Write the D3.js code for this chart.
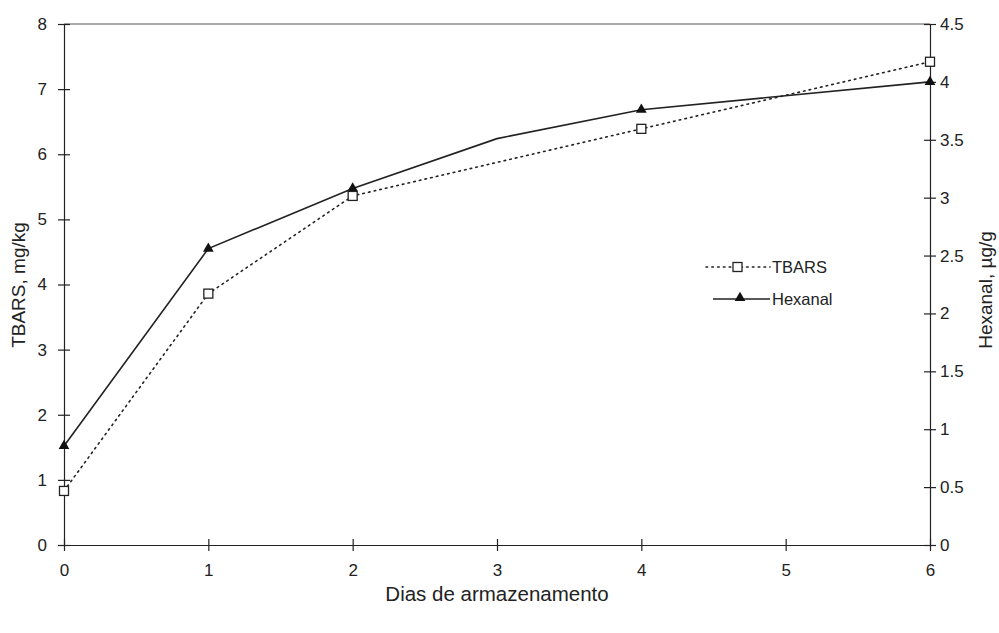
<!DOCTYPE html>
<html><head><meta charset="utf-8">
<script src="https://cdn.jsdelivr.net/npm/d3@7"></script>
<style>body{margin:0;background:#fff}svg{display:block}text{font-family:"Liberation Sans",Arial,sans-serif;fill:#222}</style>
</head><body>
<script>
const days = [0,1,2,3,4,5,6];
const tbarsDays = [0,1,2,4,6];
const tbarsValues = [0.83,3.86,5.36,6.39,7.42];
const hexDays = [0,1,2,3,4,6];
const hexValues = [0.855,2.56,3.08,3.51,3.76,4.0];
const hexMarked = [true,true,true,false,true,true];
const leftTicks = [0,1,2,3,4,5,6,7,8];
const rightTicks = [0,0.5,1,1.5,2,2.5,3,3.5,4,4.5];
const rightTickLabels = ["0","0.5","1","1.5","2","2.5","3","3.5","4","4.5"];

const W=999,H=633;
const svg=d3.select("body").append("svg").attr("width",W).attr("height",H);
const x=d3.scaleLinear().domain([0,6]).range([64,930]);
const yL=d3.scaleLinear().domain([0,8]).range([545,24]);
const yR=d3.scaleLinear().domain([0,4.5]).range([545,24]);
const col="#222";

// top border
svg.append("line").attr("x1",64).attr("x2",930).attr("y1",24).attr("y2",24).attr("stroke","#555").attr("stroke-width",1);

function styleAxis(g){
  g.attr("font-size",null).attr("font-family",null);
  g.selectAll("path").attr("stroke",col).attr("stroke-width",1.2);
  g.selectAll(".tick line").attr("stroke",col).attr("stroke-width",1.2);
  g.selectAll("text").style("font-size","17px").attr("fill",col).style("font-family","Liberation Sans, Arial, sans-serif");
}
const ax=svg.append("g").attr("transform","translate(0,545)")
  .call(d3.axisBottom(x).tickValues(days).tickSize(6).tickSizeOuter(0).tickPadding(13).tickFormat(d3.format("d")));
ax.selectAll(".tick line").attr("y1",-6);
styleAxis(ax);
const al=svg.append("g").attr("transform","translate(64,0)")
  .call(d3.axisLeft(yL).tickValues(leftTicks).tickSize(6).tickSizeOuter(0).tickPadding(11).tickFormat(d3.format("d")));
al.selectAll(".tick line").attr("x1",6);
styleAxis(al);
const ar=svg.append("g").attr("transform","translate(930,0)")
  .call(d3.axisRight(yR).tickValues(rightTicks).tickSize(6).tickSizeOuter(0).tickPadding(4).tickFormat((d,i)=>rightTickLabels[i]));
ar.selectAll(".tick line").attr("x1",-6);
styleAxis(ar);

// axis titles
svg.append("text").attr("transform","translate(25,285) rotate(-90)").attr("text-anchor","middle").style("font-size","19px").text("TBARS, mg/kg");
svg.append("text").attr("transform","translate(992,290) rotate(-90)").attr("text-anchor","middle").style("font-size","19px").text("Hexanal, \u00b5g/g");
svg.append("text").attr("x",497).attr("y",601).attr("text-anchor","middle").style("font-size","20.5px").text("Dias de armazenamento");

// lines
const lineT=d3.line().x((d,i)=>x(tbarsDays[i])).y(d=>yL(d));
svg.append("path").attr("d",lineT(tbarsValues)).attr("fill","none").attr("stroke",col).attr("stroke-width",1.6).attr("stroke-dasharray","1.6,4.2").attr("stroke-linecap","round");
const lineH=d3.line().x((d,i)=>x(hexDays[i])).y(d=>yR(d));
svg.append("path").attr("d",lineH(hexValues)).attr("fill","none").attr("stroke",col).attr("stroke-width",1.6);

const tri=d3.symbol().type(d3.symbolTriangle).size(50);
svg.selectAll(".hm").data(hexValues.map((v,i)=>({d:hexDays[i],v,m:hexMarked[i]})).filter(o=>o.m)).enter()
  .append("path").attr("d",tri).attr("transform",o=>`translate(${x(o.d)},${yR(o.v)})`).attr("fill","#111");
svg.selectAll(".tm").data(tbarsValues).enter().append("rect")
  .attr("x",(d,i)=>x(tbarsDays[i])-4.5).attr("y",d=>yL(d)-4.5).attr("width",9).attr("height",9)
  .attr("fill","#fff").attr("stroke",col).attr("stroke-width",1.3);

// legend
const lg=svg.append("g");
lg.append("line").attr("x1",706).attr("x2",770).attr("y1",267).attr("y2",267).attr("stroke",col).attr("stroke-width",1.6).attr("stroke-dasharray","1.6,4.2").attr("stroke-linecap","round");
lg.append("rect").attr("x",733).attr("y",262.5).attr("width",9).attr("height",9).attr("fill","#fff").attr("stroke",col).attr("stroke-width",1.3);
lg.append("text").attr("x",772).attr("y",273).style("font-size","16.5px").text("TBARS");
lg.append("line").attr("x1",713).attr("x2",770).attr("y1",299).attr("y2",299).attr("stroke",col).attr("stroke-width",1.6);
lg.append("path").attr("d",tri).attr("transform","translate(740,298)").attr("fill","#111");
lg.append("text").attr("x",772).attr("y",305).style("font-size","16.5px").text("Hexanal");
</script>
</body></html>
